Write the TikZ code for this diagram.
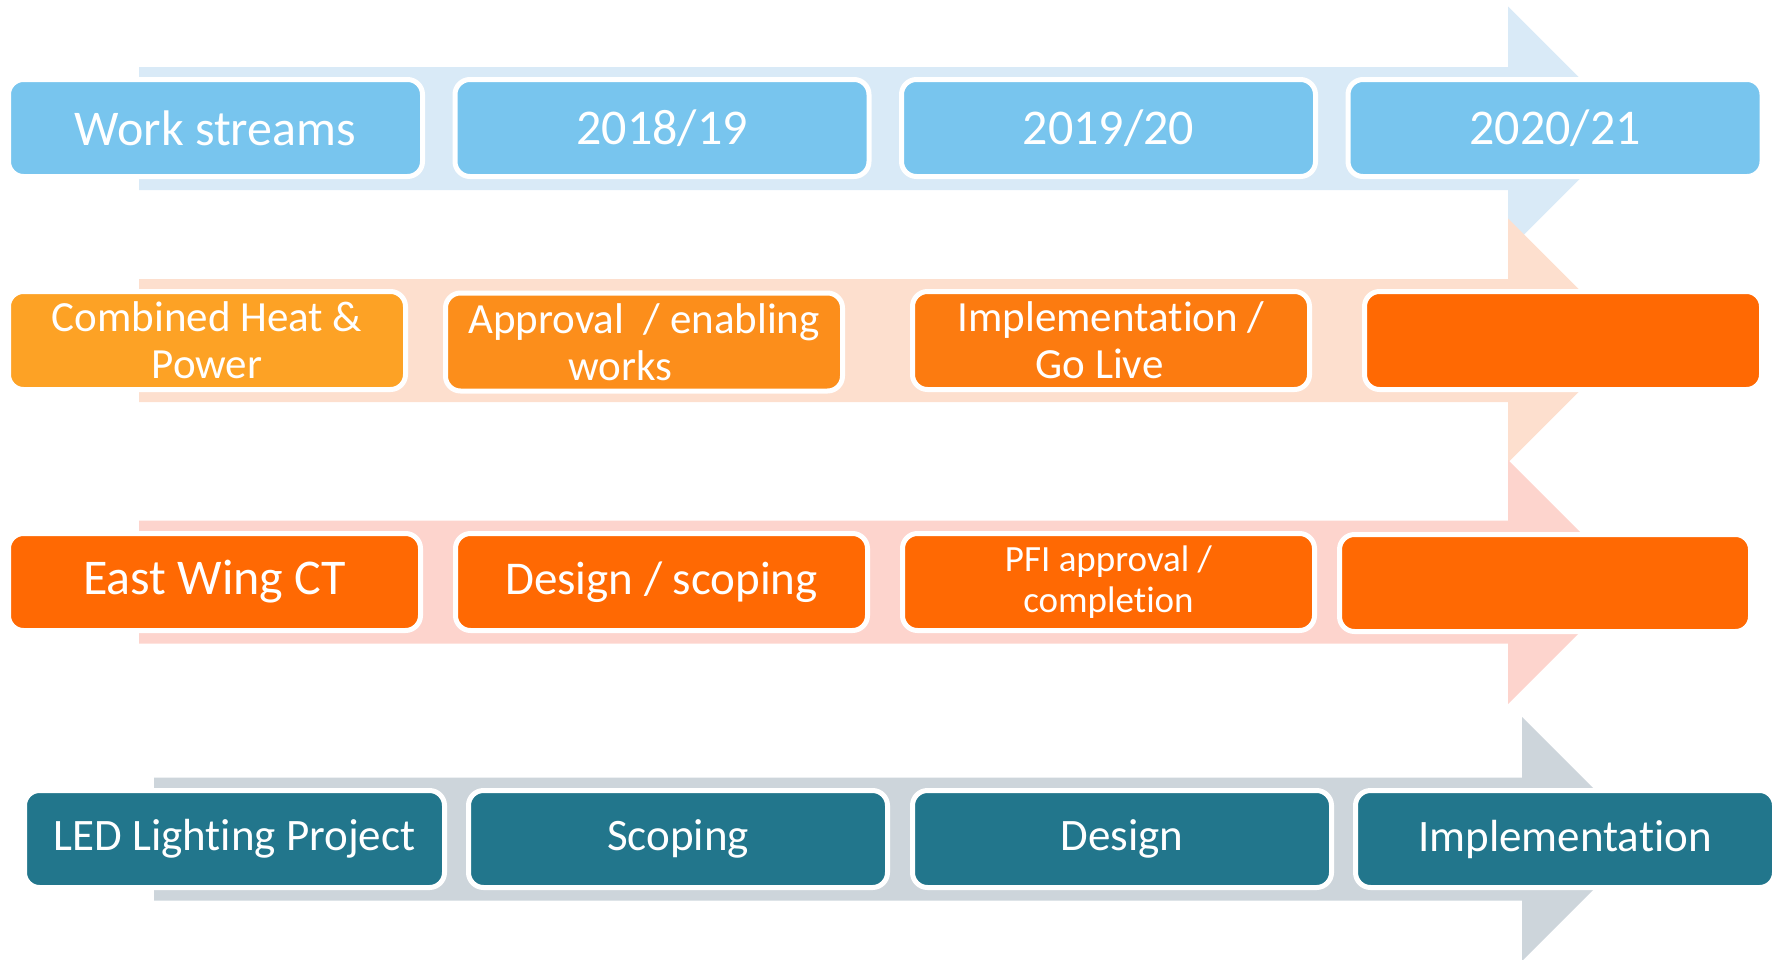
\documentclass[tikz,border=0pt]{standalone}
\usepackage{fontspec}
\setmainfont{Carlito}[Ligatures={NoCommon,NoContextual,NoRare}]

\definecolor{blueBox}{HTML}{78C5EE}
\definecolor{blueBand}{HTML}{D9EAF7}
\definecolor{orA}{HTML}{FDA225}
\definecolor{orB}{HTML}{FC8E1B}
\definecolor{orC}{HTML}{FC7B10}
\definecolor{orD}{HTML}{FF6903}
\definecolor{peachBand}{HTML}{FDDFCE}
\definecolor{pinkBand}{HTML}{FDD4CD}
\definecolor{tealBox}{HTML}{22768C}
\definecolor{greyBand}{HTML}{CDD5DB}

% wide arrow behind each row: fill colour, tail x, head base x, centre y
\newcommand\rowarrow[4]{%
  \fill[#1] (#2,#4-61.5) -- (#3,#4-61.5) -- (#3,#4-122) -- (#3+122,#4)
    -- (#3,#4+122) -- (#3,#4+61.5) -- (#2,#4+61.5) -- cycle;}

\begin{document}
\begin{tikzpicture}[x=1pt,y=-1pt,
  stagebox/.style={draw=white, line width=5pt, rounded corners=15pt,
    inner sep=0pt, outer sep=0pt, text=white, align=center,
    minimum height=97pt, fill=#1},
  f50/.style={font=\fontsize{50}{60}\selectfont},
  f47/.style={font=\fontsize{47}{56}\selectfont},
  f45/.style={font=\fontsize{45}{54}\selectfont},
  f43/.style={font=\fontsize{43}{47}\selectfont},
  f37/.style={font=\fontsize{37}{41}\selectfont}]
\useasboundingbox (0,0) rectangle (1781,959);

% header row
\rowarrow{blueBand}{139}{1508}{128.5}
\node[stagebox=blueBox, f50, minimum width=414pt] (h1) at (215.5,128) {Work streams};
\node[stagebox=blueBox, f50, minimum width=414pt] (h2) at (662,128) {2018/19};
\node[stagebox=blueBox, f50, minimum width=414pt] (h3) at (1108.5,128) {2019/20};
\node[stagebox=blueBox, f50, minimum width=414pt] (h4) at (1555,128) {2020/21};

% combined heat and power
\rowarrow{peachBand}{139}{1508}{340.5}
\node[stagebox=orA, f43, minimum width=397pt, minimum height=98pt] (c1) at (207,340.5) {Combined Heat \&\\Power};
\node[stagebox=orB, f43, minimum width=397pt, minimum height=98pt] (c2) at (644,342) {Approval\ \ / enabling\\works\hspace*{48pt}};
\node[stagebox=orC, f43, minimum width=397pt, minimum height=98pt] (c3) at (1111,340.5) {Implementation /\\Go Live\hspace*{23pt}};
\node[stagebox=orD, minimum width=397pt, minimum height=98pt] (c4) at (1563,340.5) {};

% east wing
\rowarrow{pinkBand}{139}{1508}{582}
\node[stagebox=orD, f50, minimum width=412pt] (e1) at (214.5,582) {East Wing CT};
\node[stagebox=orD, f47, minimum width=412pt] (e2) at (661.5,582) {Design / scoping};
\node[stagebox=orD, f37, minimum width=412pt] (e3) at (1108.5,582) {PFI approval /\\completion};
\node[stagebox=orD, minimum width=411pt] (e4) at (1545,583) {};

% LED lighting
\rowarrow{greyBand}{154}{1522}{839}
\node[stagebox=tealBox, f45, minimum width=420pt] (l1) at (234.5,839) {LED Lighting Project};
\node[stagebox=tealBox, f45, minimum width=419pt] (l2) at (678,839) {Scoping};
\node[stagebox=tealBox, f45, minimum width=419pt] (l3) at (1122,839) {Design};
\node[stagebox=tealBox, f45, minimum width=419pt] (l4) at (1565,839) {Implementation};
\end{tikzpicture}
\end{document}
